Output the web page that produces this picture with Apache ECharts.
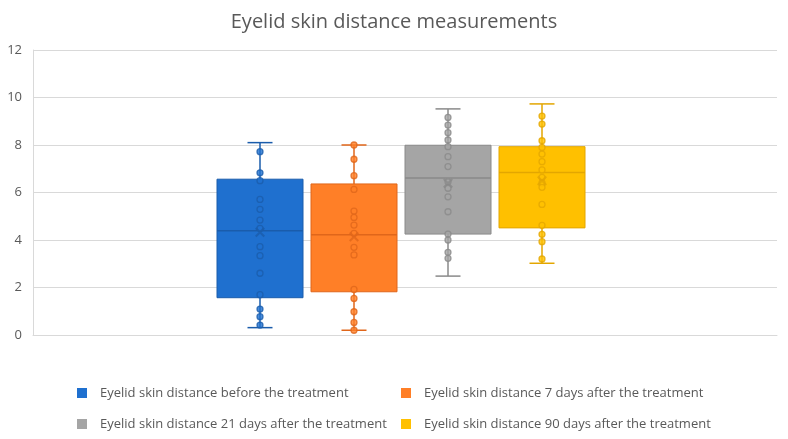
<!DOCTYPE html>
<html>
<head>
<meta charset="utf-8">
<script src="https://cdn.jsdelivr.net/npm/echarts@6/dist/echarts.min.js"></script>
<style>html,body{margin:0;padding:0;background:#fff}#c{width:788px;height:439px}</style>
</head>
<body>
<div id="c"></div>
<script>
const seriesNames = [
  'Eyelid skin distance before the treatment',
  'Eyelid skin distance 7 days after the treatment',
  'Eyelid skin distance 21 days after the treatment',
  'Eyelid skin distance 90 days after the treatment'
];
const yTicks = [0, 2, 4, 6, 8, 10, 12];
// [min, Q1, median, Q3, max]
const boxBefore = [0.31, 1.57, 4.39, 6.56, 8.10];
const box7 = [0.20, 1.82, 4.22, 6.36, 8.00];
const box21 = [2.48, 4.25, 6.61, 7.99, 9.52];
const box90 = [3.02, 4.51, 6.84, 7.93, 9.73];
const meanValues = [4.33, 4.14, 6.39, 6.50];
const ptsBefore = [7.72, 6.83, 6.50, 5.71, 5.29, 4.84, 4.49, 3.72, 3.34, 2.60, 1.70, 1.09, 0.77, 0.42];
const pts7 = [8.00, 7.40, 6.71, 6.13, 5.22, 4.95, 4.63, 4.28, 3.69, 3.37, 1.92, 1.54, 0.98, 0.53, 0.20];
const pts21 = [9.16, 8.84, 8.52, 8.21, 7.93, 7.51, 7.09, 6.45, 6.18, 5.82, 5.19, 4.25, 4.00, 3.48, 3.23];
const pts90 = [9.22, 8.88, 8.18, 7.90, 7.62, 7.30, 6.95, 6.64, 6.40, 6.22, 5.50, 4.62, 4.24, 3.93, 3.20];

const boxes = [boxBefore, box7, box21, box90];
const points = [ptsBefore, pts7, pts21, pts90];
const fills = ['#1f70cf', '#ff7f27', '#a5a5a5', '#ffc000'];
const darks = ['#1a5cab', '#e0661a', '#8a8a8a', '#e3a600'];
const legendPos = [[77, 385], [401, 385], [77, 416], [401, 416]];

const chart = echarts.init(document.getElementById('c'));
const textColor = '#595959';
const font = 'Open Sans';

const series = [];
boxes.forEach((b, i) => {
  series.push({
    name: seriesNames[i],
    type: 'custom',
    xAxisIndex: 1, yAxisIndex: 1,
    itemStyle: { color: fills[i] },
    data: [[i].concat(b)],
    z: 2,
    renderItem: function (params, api) {
      const x = api.value(0);
      const pMin = api.coord([x, api.value(1)]);
      const pQ1 = api.coord([x, api.value(2)]);
      const pMed = api.coord([x, api.value(3)]);
      const pQ3 = api.coord([x, api.value(4)]);
      const pMax = api.coord([x, api.value(5)]);
      const band = api.size([1, 0])[0];
      const w = band * 86 / 94;
      const cap = 25;
      const cx = pMed[0];
      const lineStyle = { stroke: darks[i], lineWidth: 1.5 };
      return {
        type: 'group',
        children: [
          { type: 'line', shape: { x1: cx, y1: pMax[1], x2: cx, y2: pQ3[1] }, style: lineStyle },
          { type: 'line', shape: { x1: cx, y1: pQ1[1], x2: cx, y2: pMin[1] }, style: lineStyle },
          { type: 'line', shape: { x1: cx - cap / 2, y1: pMax[1], x2: cx + cap / 2, y2: pMax[1] }, style: lineStyle },
          { type: 'line', shape: { x1: cx - cap / 2, y1: pMin[1], x2: cx + cap / 2, y2: pMin[1] }, style: lineStyle },
          { type: 'rect', shape: { x: cx - w / 2, y: pQ3[1], width: w, height: pQ1[1] - pQ3[1] },
            style: { fill: fills[i], stroke: darks[i], lineWidth: 1 } },
          { type: 'line', shape: { x1: cx - w / 2, y1: pMed[1], x2: cx + w / 2, y2: pMed[1] },
            style: { stroke: darks[i], lineWidth: 1.5 } }
        ]
      };
    }
  });
});
points.forEach((p, i) => {
  series.push({
    name: seriesNames[i],
    type: 'scatter',
    xAxisIndex: 1, yAxisIndex: 1,
    symbol: 'circle',
    symbolSize: 6,
    itemStyle: { color: fills[i], borderColor: darks[i], borderWidth: 1.3 },
    data: p.map(v => [i, v]),
    z: 3
  });
});
series.push({
  name: 'mean',
  type: 'scatter',
  xAxisIndex: 1, yAxisIndex: 1,
  symbol: 'path://M1.5,0 L5,3.5 L8.5,0 L10,1.5 L6.5,5 L10,8.5 L8.5,10 L5,6.5 L1.5,10 L0,8.5 L3.5,5 L0,1.5 Z',
  symbolSize: 10,
  data: meanValues.map((v, i) => ({ value: [i, v], itemStyle: { color: darks[i] } })),
  z: 4
});

const legends = seriesNames.map((n, i) => ({
  data: [n],
  left: legendPos[i][0],
  top: legendPos[i][1],
  padding: 0,
  icon: 'rect',
  itemWidth: 10,
  itemHeight: 10,
  selectedMode: false,
  textStyle: { color: textColor, fontFamily: font, fontSize: 13, lineHeight: 16, padding: [0, 0, 0, 8] }
}));

chart.setOption({
  animation: false,
  backgroundColor: '#fff',
  title: {
    text: 'Eyelid skin distance measurements',
    left: 'center',
    top: 7,
    textStyle: { color: textColor, fontFamily: font, fontSize: 20, fontWeight: 'normal' }
  },
  legend: legends,
  grid: [
    { left: 33, right: 11, top: 50, bottom: 104 },
    { left: 213, right: 199, top: 50, bottom: 104 }
  ],
  xAxis: [
    { type: 'category', gridIndex: 0, data: [''], axisTick: { show: false }, axisLabel: { show: false },
      axisLine: { lineStyle: { color: '#d9d9d9' } } },
    { type: 'category', gridIndex: 1, data: [0, 1, 2, 3], show: false }
  ],
  yAxis: [
    { type: 'value', gridIndex: 0, min: yTicks[0], max: yTicks[yTicks.length - 1], interval: 2,
      axisLine: { show: true, lineStyle: { color: '#d9d9d9' } },
      axisTick: { show: false },
      splitLine: { lineStyle: { color: '#d9d9d9' } },
      axisLabel: { color: textColor, fontFamily: font, fontSize: 13, margin: 11 } },
    { type: 'value', gridIndex: 1, min: yTicks[0], max: yTicks[yTicks.length - 1], interval: 2, show: false,
      splitLine: { show: false } }
  ],
  series: series
});
</script>
</body>
</html>
